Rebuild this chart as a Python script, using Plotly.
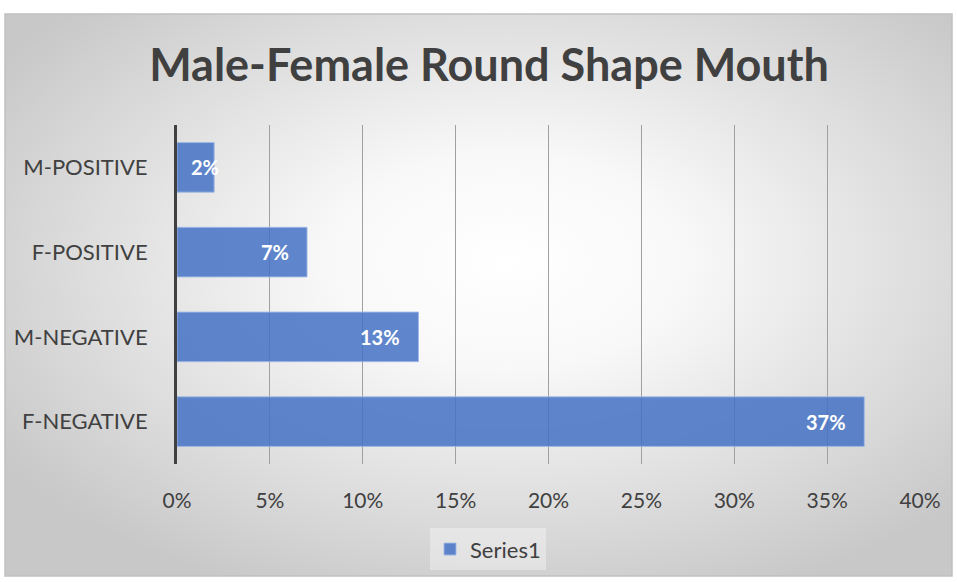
import base64
import plotly.graph_objects as go

categories = ["F-NEGATIVE", "M-NEGATIVE", "F-POSITIVE", "M-POSITIVE"]
values = [0.37, 0.13, 0.07, 0.02]
series_name = "Series1"
title_text = "Male-Female Round Shape Mouth"

W, H = 957, 582
L, R, T, B = 177, 920, 125, 467  # plot area pixels
pw, ph = R - L, B - T

def px_x(p):
    return (p - L) / pw

def px_y(p):
    return (B - p) / ph

svg = '''<svg xmlns="http://www.w3.org/2000/svg" width="947" height="567" viewBox="0 0 947 567" preserveAspectRatio="none">
<defs><radialGradient id="g" cx="53%" cy="44%" r="64%">
<stop offset="0" stop-color="#ffffff"/><stop offset="0.3" stop-color="#f8f8f8"/><stop offset="1" stop-color="#c8c8c8"/>
</radialGradient></defs><rect width="947" height="567" fill="url(#g)"/></svg>'''
src = "data:image/svg+xml;base64," + base64.b64encode(svg.encode()).decode()

FONT = "Lato"

fig = go.Figure()
fig.add_trace(go.Bar(
    y=categories, x=values, orientation="h", name=series_name,
    marker=dict(color="rgba(68,114,196,0.85)", line=dict(color="rgba(160,185,230,0.9)", width=1)),
    width=0.585, showlegend=True, hoverinfo="skip",
))

annotations = []
for c, v in zip(categories, values):
    label = f"{round(v*100)}%"
    f = dict(family=FONT, size=20, color="white", weight="bold")
    if v < 0.04:
        annotations.append(dict(x=0, y=c, xref="x", yref="y", text=label, showarrow=False,
                                xanchor="left", xshift=12, font=f))
    else:
        annotations.append(dict(x=v, y=c, xref="x", yref="y", text=label, showarrow=False,
                                xanchor="right", xshift=-16, font=f))

fig.update_layout(
    width=W, height=H,
    margin=dict(l=L, r=W - R, t=T, b=H - B, pad=0),
    paper_bgcolor="white", plot_bgcolor="rgba(0,0,0,0)",
    title=dict(text=title_text, x=489 / W, y=1 - 65 / H, xanchor="center", yanchor="middle",
               font=dict(family=FONT, size=45, color="#404040", weight="bold")),
    xaxis=dict(range=[0, 0.4], dtick=0.05, tickformat=".0%", showgrid=True, gridcolor="#a0a0a0",
               gridwidth=1.2, zeroline=False, showline=False, ticks="outside", ticklen=18,
               tickcolor="rgba(0,0,0,0)", tickfont=dict(family=FONT, size=21, color="#404040"),
               fixedrange=True),
    yaxis=dict(showline=True, linecolor="#404040", linewidth=3, showgrid=False, zeroline=False,
               ticks="outside", ticklen=22, tickcolor="rgba(0,0,0,0)",
               tickfont=dict(family=FONT, size=22, color="#404040"), fixedrange=True),
    legend=dict(orientation="h", x=px_x(488), y=px_y(553), xanchor="center", yanchor="middle",
                bgcolor="rgba(255,255,255,0.35)", font=dict(family=FONT, size=22, color="#404040"),
                itemwidth=30),
    images=[dict(source=src, xref="paper", yref="paper", x=px_x(5), y=px_y(13),
                 sizex=px_x(952) - px_x(5), sizey=px_y(13) - px_y(580), sizing="stretch",
                 layer="below", xanchor="left", yanchor="top")],
    shapes=[dict(type="rect", xref="paper", yref="paper", x0=px_x(5), x1=px_x(952),
                 y0=px_y(580), y1=px_y(13), line=dict(color="#c0c0c0", width=1.5), layer="below")],
    annotations=annotations,
    bargap=0.415,
)

fig.write_html("out.html", config={"displayModeBar": False},
               post_script="document.body.style.margin='0';")
